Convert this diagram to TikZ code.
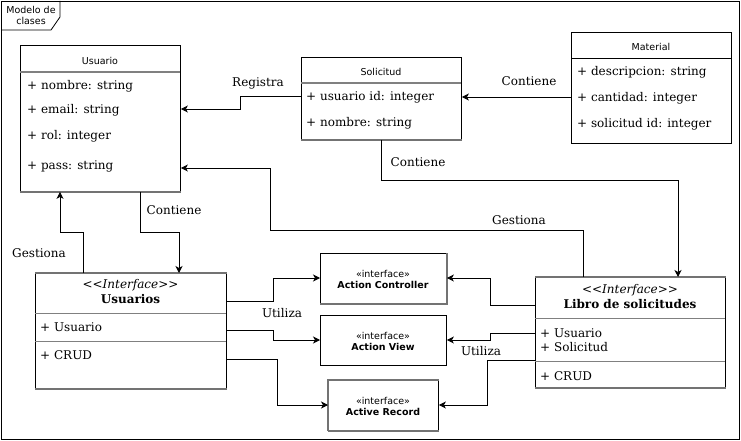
\documentclass[tikz,border=0pt]{standalone}
\usepackage{fontspec}
\setmainfont{DejaVu Serif}
\setsansfont{DejaVu Sans}
\usetikzlibrary{arrows.meta}
\begin{document}
\begin{tikzpicture}[x=1pt,y=-1pt,
  box/.style={draw=black,line width=0.9pt,inner sep=0pt,anchor=north west,fill=white},
  divider/.style={draw=black!50,line width=1.3pt},
  edge/.style={draw=black!55,line width=1.5pt},
  attr/.style={anchor=west,inner sep=0pt,font=\fontsize{12}{14}\selectfont},
  lbl/.style={inner sep=0pt,font=\fontsize{12}{14}\selectfont},
  ttl/.style={inner sep=0pt,font=\sffamily\fontsize{9.5}{11}\selectfont},
  itf/.style={inner sep=0pt,align=center,font=\sffamily\fontsize{9.5}{11.5}\selectfont},
  arr/.style={draw=black,line width=0.8pt,-{Stealth[length=7pt,width=7pt,inset=2pt]}}]
\useasboundingbox (0,0) rectangle (741,441);
% frame
\draw[line width=0.8pt] (1,1) rectangle (739,439);
\draw[line width=0.8pt] (1,30) -- (51,30) -- (60,17) -- (60,1);
\node[ttl,align=center] (frametitle) at (31,15.5) {Modelo de\\clases};

% Usuario
\node[box,minimum width=160pt,minimum height=146pt] (usuario) at (20,45) {};
\draw[divider] (20,72) -- (180,72);
\draw[edge] (usuario.south west) -- (usuario.south east);
\node[ttl] (usuariot) at (100,61) {Usuario};
\node[attr] (u1) at (27,86) {+ nombre: string};
\node[attr] (u2) at (27,110) {+ email: string};
\node[attr] (u3) at (27,136) {+ rol: integer};
\node[attr] (u4) at (27,166) {+ pass: string};

% Solicitud
\node[box,minimum width=160pt,minimum height=82pt] (solicitud) at (301,57) {};
\draw[divider] (301,83) -- (461,83);
\draw[edge] (solicitud.south west) -- (solicitud.south east);
\node[ttl] (solicitudt) at (381,72) {Solicitud};
\node[attr] (s1) at (306,97) {+ usuario id: integer};
\node[attr] (s2) at (306,123) {+ nombre: string};

% Material
\node[box,minimum width=160pt,minimum height=111pt] (material) at (571,32) {};
\draw[line width=0.9pt] (571,58) -- (731,58);
\node[ttl] (materialt) at (651,47) {Material};
\node[attr] (m1) at (577,72) {+ descripcion: string};
\node[attr] (m2) at (577,98) {+ cantidad: integer};
\node[attr] (m3) at (577,124) {+ solicitud id: integer};

% Usuarios interface
\node[box,minimum width=191pt,minimum height=115pt] (usuarios) at (35,273) {};
\draw[edge] (usuarios.north west) -- (usuarios.north east);
\draw[edge] (usuarios.south west) -- (usuarios.south east);
\draw[divider,line width=0.9pt] (35,313) -- (226,313);
\draw[divider,line width=0.9pt] (35,341) -- (226,341);
\node[lbl,font=\itshape\fontsize{12}{14}\selectfont] (usuariosst) at (130.5,285) {<{}<Interface>{}>};
\node[lbl,font=\bfseries\fontsize{12}{14}\selectfont] (usuariost) at (130.5,299) {Usuarios};
\node[attr] (us1) at (40,327) {+ Usuario};
\node[attr] (us2) at (40,355) {+ CRUD};

% Libro de solicitudes
\node[box,minimum width=190pt,minimum height=110pt] (libro) at (535,277) {};
\draw[edge] (libro.north west) -- (libro.north east);
\draw[edge] (libro.south west) -- (libro.south east);
\draw[divider,line width=0.9pt] (535,318) -- (725,318);
\draw[divider,line width=0.9pt] (535,361) -- (725,361);
\node[lbl,font=\itshape\fontsize{12}{14}\selectfont] (librost) at (630,290) {<{}<Interface>{}>};
\node[lbl,font=\bfseries\fontsize{12}{14}\selectfont] (librot) at (630,304) {Libro de solicitudes};
\node[attr] (l1) at (540,333) {+ Usuario};
\node[attr] (l2) at (540,347) {+ Solicitud};
\node[attr] (l3) at (540,376) {+ CRUD};

% interfaces
\node[box,minimum width=126pt,minimum height=50pt] (actc) at (320,253) {};
\draw[edge,line width=1.2pt] (actc.south west) -- (actc.south east) -- (actc.north east);
\node[itf] (actct) at (383,279.5) {«interface»\\\bfseries Action Controller};
\node[box,minimum width=126pt,minimum height=50pt] (actv) at (320,315) {};
\node[itf] (actvt) at (383,341.5) {«interface»\\\bfseries Action View};
\node[box,minimum width=110pt,minimum height=50pt] (actr) at (328,380) {};
\draw[edge,line width=1.2pt] (actr.south west) -- (actr.north west) -- (actr.north east);
\draw[edge,line width=1.2pt] (actr.south west) -- (actr.south east);
\node[itf] (actrt) at (383,406.5) {«interface»\\\bfseries Active Record};

% connectors
\draw[arr] (solicitud.west |- 0,96) -- (240,96) -- (240,109) -- (usuario.east |- 0,109);
\node[lbl] (lreg) at (258,83) {Registra};

\draw[arr] (libro.north -| 583,0) -- (583,230) -- (270,230) -- (270,168) -- (usuario.east |- 0,168);
\node[lbl] (lgest1) at (519,220) {Gestiona};

\draw[arr] (solicitud.south -| 381,0) -- (381,180) -- (678,180) -- (libro.north -| 678,0);
\node[lbl] (lcont1) at (418,162) {Contiene};

\draw[arr] (material.west |- 0,97) -- (solicitud.east |- 0,97);
\node[lbl] (lcont2) at (529,81) {Contiene};

\draw[arr] (usuarios.north -| 83,0) -- (83,232) -- (60,232) -- (usuario.south -| 60,0);
\node[lbl] (lgest2) at (39,253) {Gestiona};

\draw[arr] (usuario.south -| 140,0) -- (140,232) -- (179,232) -- (usuarios.north -| 179,0);
\node[lbl] (lcont3) at (174,210) {Contiene};

\draw[arr] (usuarios.east |- 0,301) -- (273,301) -- (273,278) -- (actc.west |- 0,278);
\draw[arr] (usuarios.east |- 0,330) -- (273,330) -- (273,340) -- (actv.west |- 0,340);
\draw[arr] (usuarios.east |- 0,359) -- (277,359) -- (277,405) -- (actr.west |- 0,405);
\node[lbl] (lut1) at (282,313) {Utiliza};

\draw[arr] (libro.west |- 0,305) -- (490,305) -- (490,278) -- (actc.east |- 0,278);
\draw[arr] (libro.west |- 0,333) -- (490,333) -- (490,340) -- (actv.east |- 0,340);
\draw[arr] (libro.west |- 0,360) -- (487,360) -- (487,405) -- (actr.east |- 0,405);
\node[lbl] (lut2) at (481,351) {Utiliza};
\end{tikzpicture}
\end{document}
